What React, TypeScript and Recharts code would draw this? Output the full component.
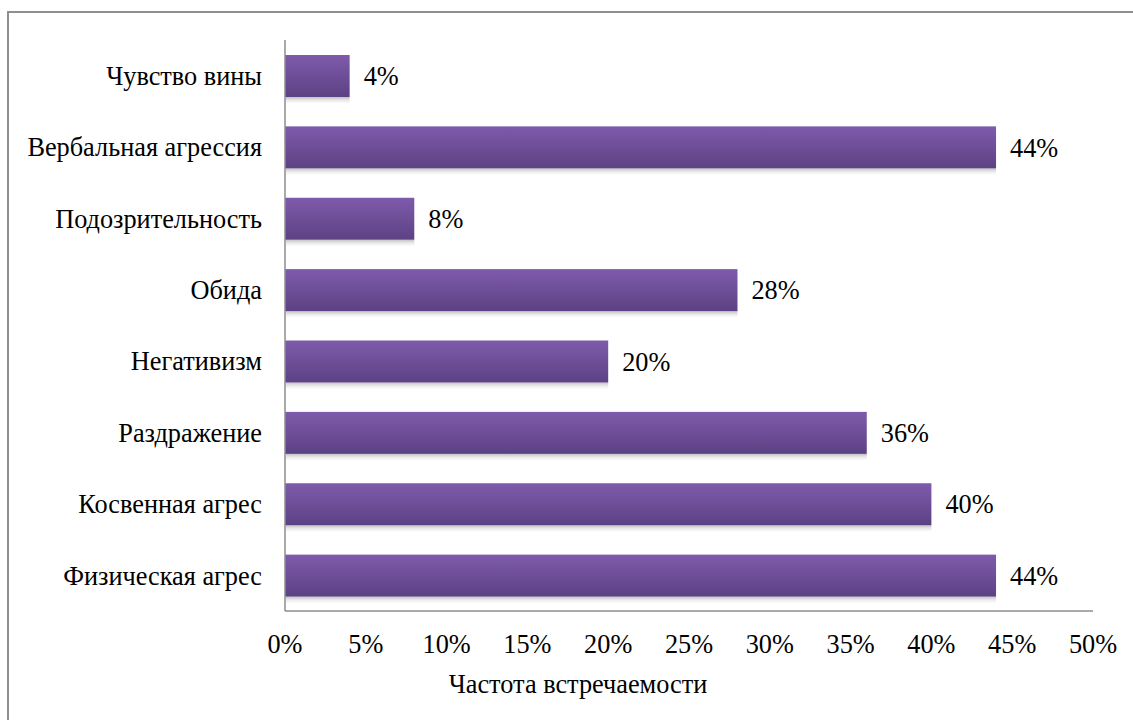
import React from 'react';
import { BarChart, Bar, XAxis, YAxis, LabelList, Label } from 'recharts';

const categories = [
  'Чувство вины',
  'Вербальная агрессия',
  'Подозрительность',
  'Обида',
  'Негативизм',
  'Раздражение',
  'Косвенная агрес',
  'Физическая агрес',
];
const values = [4, 44, 8, 28, 20, 36, 40, 44];
const xTicks = [0, 5, 10, 15, 20, 25, 30, 35, 40, 45, 50];
const axisTitle = 'Частота встречаемости';

const data = categories.map((name, i) => ({ name, value: values[i] }));

const FONT = 'Liberation Serif, Tinos, Times New Roman, serif';
const FS = 26.3;
const textStyle = { fontFamily: FONT, fontSize: FS };

const BarShape = (props: any) => {
  const { x, y, width, height } = props;
  if (!width || width <= 0) return null;
  const shadows = [
    { d: 1, o: 0.22 },
    { d: 2, o: 0.17 },
    { d: 3, o: 0.12 },
    { d: 4, o: 0.08 },
    { d: 5, o: 0.05 },
    { d: 6, o: 0.03 },
  ];
  return (
    <g>
      {shadows.map((s) => (
        <rect
          key={s.d}
          x={x + 1}
          y={y + height + s.d - 1}
          width={Math.max(0, width - 1)}
          height={1}
          fill="#000"
          fillOpacity={s.o}
        />
      ))}
      <rect x={x} y={y} width={width} height={height} fill="url(#barGrad)" />
    </g>
  );
};

const YTick = (props: any) => {
  const { x, y, payload } = props;
  return (
    <text x={x} y={y} dy="0.35em" textAnchor="end" fill="#000" fontFamily={FONT} fontSize={FS} style={textStyle}>
      {payload.value}
    </text>
  );
};

const XTick = (props: any) => {
  const { x, y, payload } = props;
  return (
    <text x={x} y={y} dy="0.71em" textAnchor="middle" fill="#000" fontFamily={FONT} fontSize={FS} style={textStyle}>
      {`${payload.value}%`}
    </text>
  );
};

const ValueLabel = (props: any) => {
  const { x, y, width, height, value } = props;
  return (
    <text
      x={Number(x) + Number(width) + 14}
      y={Number(y) + Number(height) / 2}
      dy="0.35em"
      textAnchor="start"
      fill="#000"
      fontFamily={FONT}
      fontSize={FS}
      style={textStyle}
    >
      {`${value}%`}
    </text>
  );
};

const AxisTitle = (props: any) => {
  const vb = props.viewBox || {};
  const cx = vb.x + vb.width / 2 - 111;
  const by = vb.y + 82;
  return (
    <text x={cx} y={by} textAnchor="middle" fill="#000" fontFamily={FONT} fontSize={FS} style={textStyle}>
      {axisTitle}
    </text>
  );
};

export default function App() {
  return (
    <div
      style={{
        position: 'fixed',
        left: 0,
        top: 0,
        width: 1133,
        height: 720,
        overflow: 'hidden',
        background: '#fff',
        fontFamily: FONT,
      }}
    >
      <div
        style={{
          position: 'absolute',
          left: 7,
          top: 11,
          width: 1300,
          height: 900,
          borderLeft: '2px solid #8f8f8f',
          borderTop: '2px solid #8f8f8f',
          boxSizing: 'border-box',
        }}
      />
      <div style={{ position: 'absolute', left: 0, top: 0 }}>
        <BarChart
          width={1133}
          height={720}
          data={data}
          layout="vertical"
          margin={{ top: 40, right: 40, bottom: 10, left: 15 }}
        >
          <defs>
            <linearGradient id="barGrad" x1="0" y1="0" x2="0" y2="1">
              <stop offset="0%" stopColor="#7e5bab" />
              <stop offset="100%" stopColor="#5c4184" />
            </linearGradient>
          </defs>
          <XAxis
            type="number"
            domain={[0, 50]}
            ticks={xTicks}
            axisLine={{ stroke: '#8c8c8c', strokeWidth: 1.5 }}
            tickLine={false}
            tickSize={0}
            tickMargin={23}
            height={99}
            tick={XTick}
            interval={0}
          >
            <Label content={AxisTitle} position="insideBottom" />
          </XAxis>
          <YAxis
            type="category"
            dataKey="name"
            width={270}
            axisLine={{ stroke: '#8c8c8c', strokeWidth: 1.5 }}
            tickLine={false}
            tickSize={0}
            tickMargin={23}
            interval={0}
            tick={YTick}
          />
          <Bar
            dataKey="value"
            barSize={42}
            shape={BarShape}
            isAnimationActive={false}
          >
            <LabelList dataKey="value" content={ValueLabel} />
          </Bar>
        </BarChart>
      </div>
    </div>
  );
}
